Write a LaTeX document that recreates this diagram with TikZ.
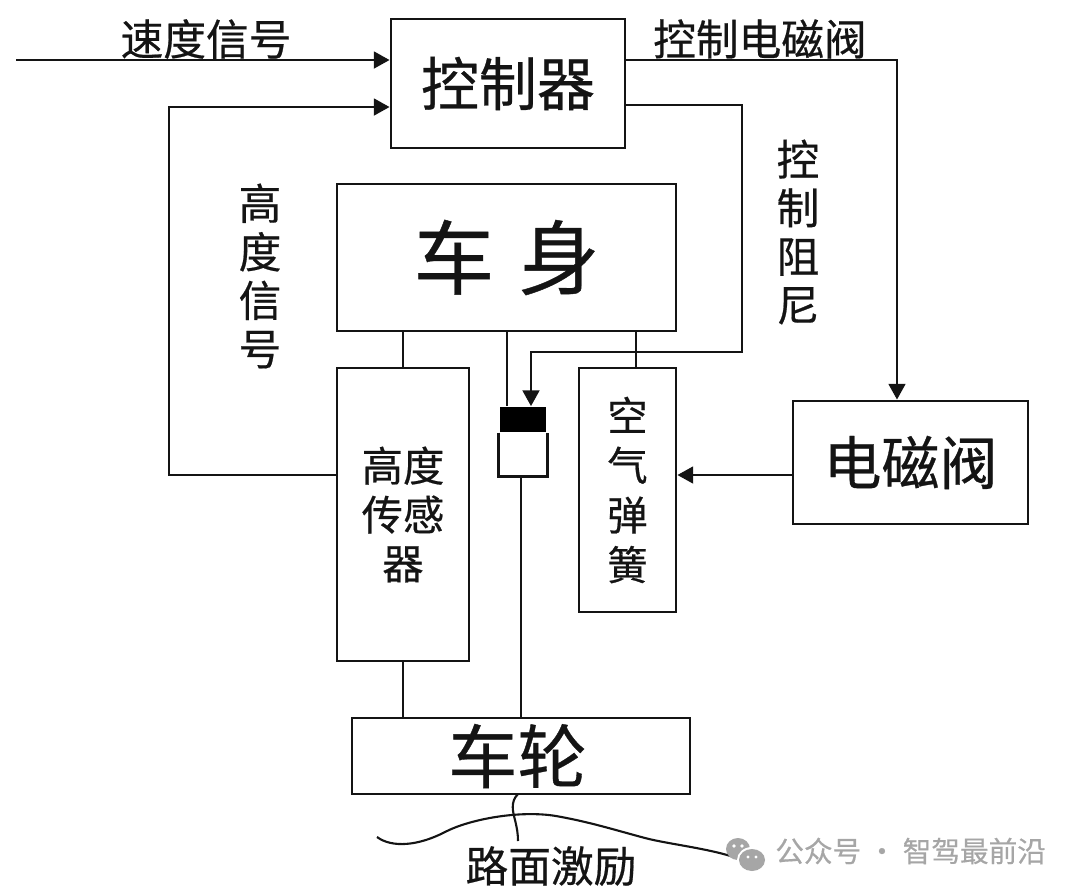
\documentclass[tikz,border=0pt]{standalone}
\usepackage{fontspec}
\setmainfont{Noto Sans CJK SC}[RawFeature={embolden=0.5}]
\usepackage{xcolor}
\usetikzlibrary{arrows.meta, calc}
\definecolor{inkline}{HTML}{141414}
\definecolor{markgray}{HTML}{A6A6A6}
\tikzset{
    blockbox/.style={draw=inkline, line width=1.6pt, fill=white, inner sep=0pt, align=center, text=inkline},
    sigline/.style={draw=inkline, line width=1.6pt},
    sigarrow/.style={sigline, -{Triangle[length=9pt, width=9.5pt]}},
    roadline/.style={draw=inkline, line width=1.2pt},
    siglabel/.style={font=\fontsize{24.3}{27.6}\selectfont, text=inkline, inner sep=0pt, align=center},
}

\begin{document}
\begin{tikzpicture}[x=0.02cm, y=-0.02cm]
    \useasboundingbox (0,0) rectangle (1080,894);

    % Blocchi
    \node[blockbox, minimum width=4.68cm, minimum height=2.58cm, font=\fontsize{33}{36}\selectfont] (ctrl) at (508,83.5) {控制器};
    \node[blockbox, minimum width=6.78cm, minimum height=2.94cm, font=\fontsize{46}{50}\selectfont] (body) at (506.5,257.5) {车\hspace{0.3em}身};
    \node[blockbox, minimum width=2.64cm, minimum height=5.86cm, font=\fontsize{23.5}{27.8}\selectfont] (hsens) at (403,514.5) {高度\\传感\\器};
    \node[blockbox, minimum width=1.94cm, minimum height=4.88cm, font=\fontsize{23}{28.3}\selectfont] (spring) at (627.5,490) {空\\气\\弹\\簧};
    \node[blockbox, minimum width=4.70cm, minimum height=2.46cm, font=\fontsize{33}{36}\selectfont] (valve) at (910.5,462.5) {电磁阀};
    \node[blockbox, minimum width=6.76cm, minimum height=1.52cm, font=\fontsize{39.5}{42}\selectfont] (wheel) at (521,756) {车轮\hspace{4pt}};

    % Ammortizzatore
    \node[inner sep=0pt, minimum width=0.96cm, minimum height=0.86cm] (cyl) at (523,454.5) {};
    \draw[sigline] (cyl.north west) -- (cyl.south west) -- (cyl.south east) -- (cyl.north east);
    \node[inner sep=0pt, fill=black, minimum width=0.94cm, minimum height=0.50cm] (cap) at (523,419) {};

    % Punti liberi
    \coordinate (speedin) at (16,60);
    \coordinate (feedcorner) at (169,107);
    \coordinate (valvecorner) at (897,60);
    \coordinate (dampa) at (742,105);
    \coordinate (dampb) at (742,352);
    \coordinate (dampc) at (531,352);
    \coordinate (hsout) at (337,475);
    \coordinate (capstub) at (507,0);
    \coordinate (springstub) at (636,0);
    \coordinate (cylstub) at (521,0);
    \coordinate (roadtop) at (518,794);
    \coordinate (roadend) at (518,841);

    % Segnali
    \draw[sigarrow] (speedin) -- (ctrl.west |- speedin);
    \draw[sigarrow] (hsout) -- (feedcorner |- hsout) -- (feedcorner) -- (ctrl.west |- feedcorner);
    \draw[sigarrow] (ctrl.east |- valvecorner) -- (valvecorner) -- (valve.north -| valvecorner);
    \draw[sigarrow] (ctrl.east |- dampa) -- (dampa) -- (dampb) -- (dampc) -- (cap.north -| dampc);
    \draw[sigarrow] (valve.west |- hsout) -- (spring.east |- hsout);

    % Collegamenti
    \draw[sigline] (body.south -| hsens) -- (hsens.north);
    \draw[sigline] (hsens.south) -- (wheel.north -| hsens);
    \draw[sigline] (body.south -| capstub) -- (cap.north -| capstub);
    \draw[sigline] (body.south -| springstub) -- (spring.north -| springstub);
    \draw[sigline] (cyl.south -| cylstub) -- (wheel.north -| cylstub);

    % Testi
    \node[siglabel] (speedtxt) at (206,39) {速度信号};
    \node[siglabel] (valvetxt) at (760,39) {控制电磁阀};
    \node[siglabel] (hgttxt) at (260,276) {高\\度\\信\\号};
    \node[siglabel] (damptxt) at (798,232) {控\\制\\阻\\尼};
    \node[siglabel] (roadtxt) at (551,866) {路面激励};

    % Strada
    \draw[roadline] (377,837) .. controls (392,848) and (418,846) .. (445,832)
        .. controls (470,819) and (520,810) .. (556,816)
        .. controls (590,822) and (615,830) .. (645,838)
        .. controls (675,846) and (745,852) .. (755,870);
    \draw[roadline] (roadtop) .. controls (510,802) and (513,812) .. (515,820) .. controls (517,828) and (518,834) .. (roadend);

    % Marchio
    \fill[markgray] (738,849) ellipse (12 and 11);
    \fill[white] (752,860) ellipse (15 and 13);
    \fill[markgray] (752,860) ellipse (13 and 11);
    \fill[white] (734,846) circle (1.8) (742,846) circle (1.8) (748,857) circle (1.6) (756,857) circle (1.6);
    \node[font=\fontsize{16.3}{18}\selectfont, text=markgray, inner sep=0pt, anchor=west] (marktxt) at (775,851) {公众号 · 智驾最前沿};
\end{tikzpicture}
\end{document}
